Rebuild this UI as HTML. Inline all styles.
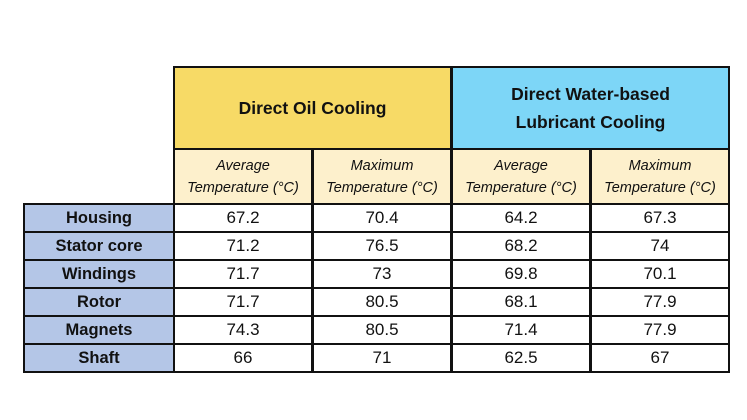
<!DOCTYPE html>
<html><head><style>
body{margin:0;width:747px;height:420px;background:#fff;position:relative;font-family:"Liberation Sans",sans-serif;overflow:hidden}
.c{position:absolute;box-sizing:border-box;border:2px solid #111;display:flex;align-items:center;justify-content:center;text-align:center;color:#111}
.h{font-weight:bold;font-size:17.5px;line-height:28px}
.s{font-style:italic;font-size:14.5px;line-height:22px;background:#fdf0cc}
.l{background:#b4c6e7;font-weight:bold;font-size:16.5px}
.d{font-size:17px}
</style></head><body>
<div class="c h" style="left:173px;top:66px;width:279px;height:84px;background:#f7da66">Direct Oil Cooling</div>
<div class="c h" style="left:451px;top:66px;width:279px;height:84px;background:#7dd6f7">Direct Water-based<br>Lubricant Cooling</div>
<div class="c s" style="left:173px;top:148px;width:140px;height:57px">Average<br>Temperature (°C)</div>
<div class="c s" style="left:312px;top:148px;width:140px;height:57px">Maximum<br>Temperature (°C)</div>
<div class="c s" style="left:451px;top:148px;width:140px;height:57px">Average<br>Temperature (°C)</div>
<div class="c s" style="left:590px;top:148px;width:140px;height:57px">Maximum<br>Temperature (°C)</div>
<div id="rows"></div>
<script>
var data=[["Housing","67.2","70.4","64.2","67.3"],["Stator core","71.2","76.5","68.2","74"],["Windings","71.7","73","69.8","70.1"],["Rotor","71.7","80.5","68.1","77.9"],["Magnets","74.3","80.5","71.4","77.9"],["Shaft","66","71","62.5","67"]];
var xs=[23,173,312,451,590],ws=[152,140,140,140,140],h="";
data.forEach(function(r,i){var t=203+i*28;r.forEach(function(v,j){h+='<div class="c '+(j?'d':'l')+'" style="left:'+xs[j]+'px;top:'+t+'px;width:'+ws[j]+'px;height:30px">'+v+'</div>';});});
document.getElementById("rows").innerHTML=h;
</script>
</body></html>
